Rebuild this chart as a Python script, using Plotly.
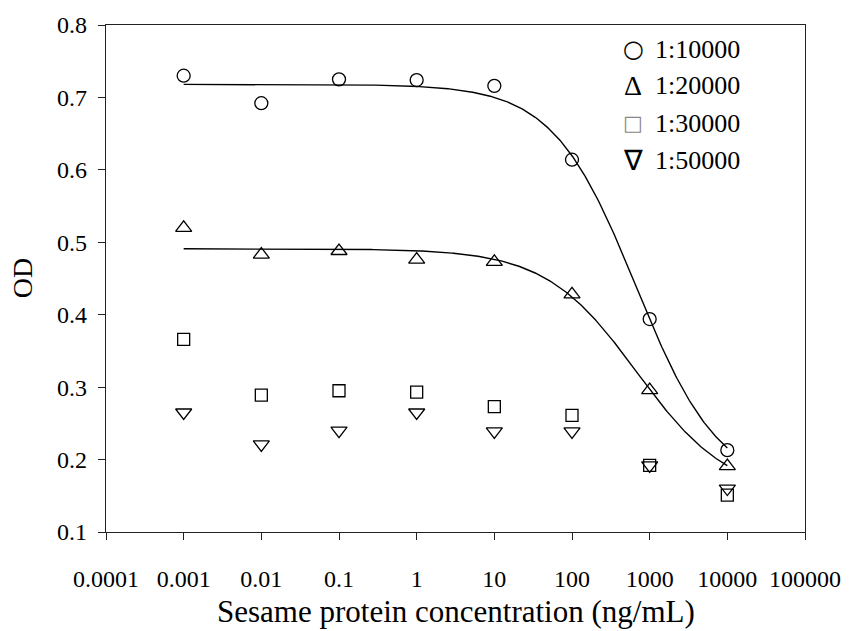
import numpy as np
import plotly.graph_objects as go

# Sesame protein concentration (ng/mL)
conc = [0.001, 0.01, 0.1, 1, 10, 100, 1000, 10000]

# OD readings for each antiserum dilution
od_10000 = [0.730, 0.692, 0.725, 0.724, 0.716, 0.614, 0.394, 0.213]
od_20000 = [0.520, 0.483, 0.488, 0.476, 0.473, 0.428, 0.296, 0.191]
od_30000 = [0.366, 0.289, 0.295, 0.293, 0.273, 0.261, 0.192, 0.151]
od_50000 = [0.265, 0.221, 0.240, 0.265, 0.239, 0.239, 0.192, 0.160]

# Four-parameter logistic fits: (top, bottom, EC50 in ng/mL, Hill slope)
fit_10000 = (0.718, 0.160, 669.0, 0.81)
fit_20000 = (0.491, 0.150, 686.0, 0.736)

x_ticks = [1e-4, 1e-3, 1e-2, 1e-1, 1, 10, 100, 1000, 10000, 100000]
x_tick_text = ["0.0001", "0.001", "0.01", "0.1", "1", "10", "100", "1000", "10000", "100000"]
y_ticks = [0.1, 0.2, 0.3, 0.4, 0.5, 0.6, 0.7, 0.8]

legend_symbols = ["<b>\u25cb</b>", "\u0394", "\u25a1", "\u2207"]
legend_labels = ["1:10000", "1:20000", "1:30000", "1:50000"]

SERIF = "Liberation Serif, Times New Roman, serif"


def logistic(x, top, bottom, c, h):
    x = np.asarray(x, float)
    return bottom + (top - bottom) / (1.0 + (x / c) ** h)


x_curve = np.logspace(np.log10(conc[0]), np.log10(conc[-1]), 400)

fig = go.Figure()

for params in (fit_10000, fit_20000):
    fig.add_trace(go.Scatter(
        x=x_curve, y=logistic(x_curve, *params), mode="lines",
        line=dict(color="black", width=1.4), hoverinfo="skip", showlegend=False,
    ))

marker_line = dict(color="black", width=1.3)
fig.add_trace(go.Scatter(x=conc, y=od_10000, mode="markers", name="1:10000",
                         marker=dict(symbol="circle-open", size=13, color="black", line=marker_line)))
fig.add_trace(go.Scatter(x=conc, y=od_20000, mode="markers", name="1:20000",
                         marker=dict(symbol="triangle-up-open", size=14, color="black", line=marker_line)))
fig.add_trace(go.Scatter(x=conc, y=od_30000, mode="markers", name="1:30000",
                         marker=dict(symbol="square-open", size=12, color="black", line=marker_line)))
fig.add_trace(go.Scatter(x=conc, y=od_50000, mode="markers", name="1:50000",
                         marker=dict(symbol="triangle-down-open", size=14, color="black", line=marker_line)))

# Text legend in the upper right corner
sym_fonts = [
    dict(family="DejaVu Sans", size=24, color="black"),
    dict(family=SERIF, size=28, color="black"),
    dict(family="DejaVu Sans", size=21, color="#888888"),
    dict(family=SERIF, size=28, color="black"),
]
row_y = [0.952, 0.880, 0.806, 0.733]
for sym, lab, sf, ry in zip(legend_symbols, legend_labels, sym_fonts, row_y):
    fig.add_annotation(x=0.754, y=ry, xref="paper", yref="paper", text=sym,
                       showarrow=False, xanchor="center", yanchor="middle", font=sf)
    fig.add_annotation(x=0.783, y=ry, xref="paper", yref="paper", text=lab,
                       showarrow=False, xanchor="left", yanchor="middle",
                       font=dict(family=SERIF, size=26, color="black"))

# Axis titles
fig.add_annotation(x=0.5, y=-0.157, xref="paper", yref="paper",
                   text="Sesame protein concentration (ng/mL)", showarrow=False,
                   xanchor="center", yanchor="middle",
                   font=dict(family=SERIF, size=31, color="black"))
fig.add_annotation(x=-0.119, y=0.5, xref="paper", yref="paper", text="OD",
                   showarrow=False, textangle=-90, xanchor="center", yanchor="middle",
                   font=dict(family=SERIF, size=28, color="black"))

axis_common = dict(
    showgrid=False, zeroline=False, showline=True, mirror=True,
    linecolor="#222222", linewidth=1.3, ticks="outside", ticklen=7,
    tickwidth=1.3, tickcolor="#222222",
    tickfont=dict(family=SERIF, size=24, color="black"),
)

fig.update_xaxes(type="log", range=[-4, 5], tickvals=x_ticks, ticktext=x_tick_text,
                 ticklabelstandoff=18, **axis_common)
fig.update_yaxes(range=[0.1, 0.8], tickvals=y_ticks, tickformat=".1f",
                 ticklabelstandoff=6, **axis_common)

fig.update_layout(
    width=853, height=631,
    margin=dict(l=106, r=40, t=22, b=99),
    paper_bgcolor="white", plot_bgcolor="white",
    showlegend=False,
    font=dict(family=SERIF, color="black"),
)

fig.write_html("out.html")
